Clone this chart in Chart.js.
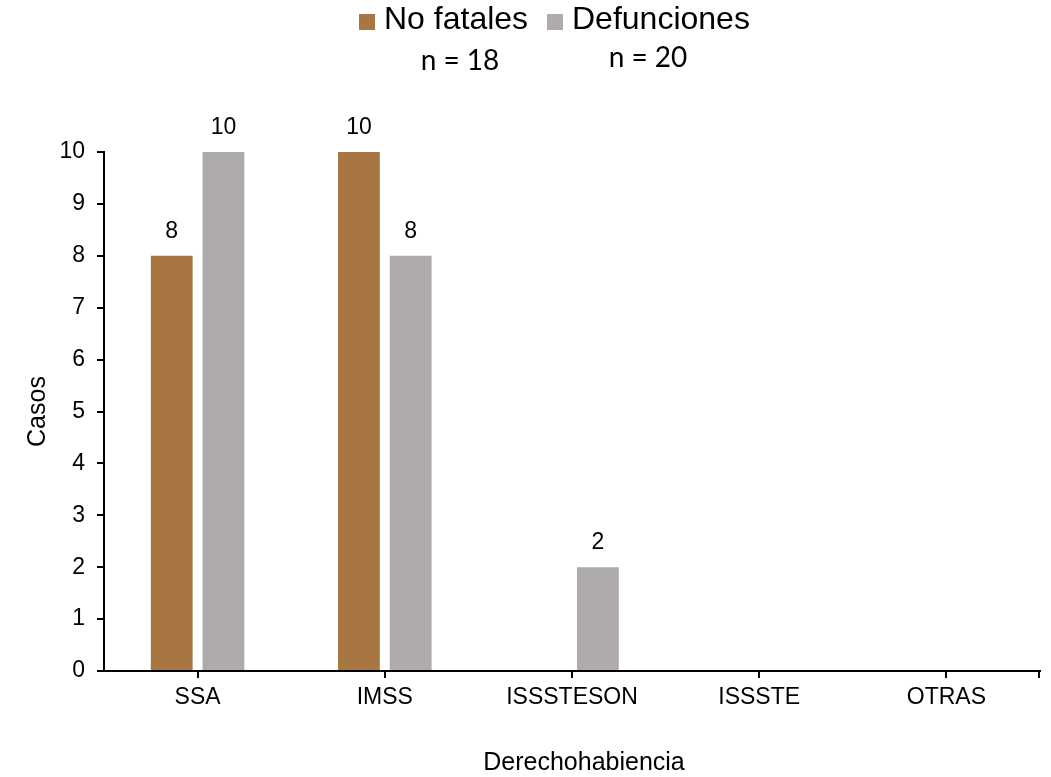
<!DOCTYPE html>
<html>
<head>
<meta charset="utf-8">
<script src="https://cdn.jsdelivr.net/npm/chart.js@4/dist/chart.umd.min.js"></script>
<style>
  html, body { margin: 0; padding: 0; background: #fff; }
  #wrap { width: 1051px; height: 777px; position: relative; }
</style>
</head>
<body>
<div id="wrap"><canvas id="c" width="1051" height="777"></canvas></div>
<script>
const categories = ['SSA', 'IMSS', 'ISSSTESON', 'ISSSTE', 'OTRAS'];
const noFatales = [8, 10, 0, 0, 0];
const defunciones = [10, 8, 2, 0, 0];
const seriesNames = ['No fatales', 'Defunciones'];
const seriesN = ['n = 18', 'n = 20'];
const yTicks = [0, 1, 2, 3, 4, 5, 6, 7, 8, 9, 10];
const xTitle = 'Derechohabiencia';
const yTitle = 'Casos';
const colors = ['#A87741', '#AEABAA'];

const AX = '"Liberation Sans", Arial, sans-serif';

const legendPlugin = {
  id: 'customLegend',
  afterDraw(chart) {
    const ctx = chart.ctx;
    ctx.save();
    const items = [
      { box: 359, text: 384, nx: 460, ny: 61 },
      { box: 547, text: 572, nx: 648, ny: 58 }
    ];
    items.forEach((it, i) => {
      ctx.fillStyle = colors[i];
      ctx.fillRect(it.box, 14, 16, 16);
      ctx.fillStyle = '#000';
      ctx.font = '32px ' + AX;
      ctx.textAlign = 'left';
      ctx.textBaseline = 'middle';
      ctx.fillText(seriesNames[i], it.text, 20);
      ctx.font = '28px Lato, "Open Sans", sans-serif';
      ctx.textAlign = 'center';
      ctx.fillText(seriesN[i], it.nx, it.ny);
    });
    // x axis title
    ctx.font = '25px ' + AX;
    ctx.textAlign = 'center';
    ctx.textBaseline = 'middle';
    ctx.fillText(xTitle, 584, 763);
    ctx.restore();
  }
};

const labelPlugin = {
  id: 'dataLabels',
  afterDatasetsDraw(chart) {
    const ctx = chart.ctx;
    ctx.save();
    ctx.font = '23px ' + AX;
    ctx.fillStyle = '#000';
    ctx.textAlign = 'center';
    ctx.textBaseline = 'bottom';
    chart.data.datasets.forEach((ds, di) => {
      const meta = chart.getDatasetMeta(di);
      meta.data.forEach((bar, i) => {
        const v = ds.data[i];
        if (v > 0) ctx.fillText(String(v), bar.x, bar.y - 13);
      });
    });
    // end tick of x axis
    const a = chart.chartArea;
    ctx.strokeStyle = '#000';
    ctx.lineWidth = 2;
    ctx.beginPath();
    ctx.moveTo(a.right - 1, a.bottom);
    ctx.lineTo(a.right - 1, a.bottom + 7);
    ctx.stroke();
    ctx.restore();
  }
};

new Chart(document.getElementById('c'), {
  type: 'bar',
  data: {
    labels: categories,
    datasets: [
      { label: seriesNames[0], data: noFatales, backgroundColor: colors[0], categoryPercentage: 0.553, barPercentage: 0.808 },
      { label: seriesNames[1], data: defunciones, backgroundColor: colors[1], categoryPercentage: 0.553, barPercentage: 0.808 }
    ]
  },
  options: {
    responsive: false,
    animation: false,
    events: [],
    layout: { padding: { top: 152, right: 11, bottom: 0, left: 0 } },
    plugins: {
      legend: { display: false },
      tooltip: { enabled: false },
      title: { display: false }
    },
    scales: {
      x: {
        offset: true,
        grid: { display: true, drawOnChartArea: false, offset: false, color: '#000', lineWidth: 2, tickLength: 7 },
        border: { display: true, color: '#000', width: 2 },
        ticks: { color: '#000', font: { family: AX, size: 23 }, padding: 6, maxRotation: 0 },
        title: { display: false },
        afterFit(scale) { scale.height = 106; }
      },
      y: {
        min: 0, max: 10,
        afterBuildTicks(scale) { scale.ticks = yTicks.map(v => ({ value: v })); },
        grid: { display: true, drawOnChartArea: false, color: '#000', lineWidth: 2, tickLength: 7 },
        border: { display: true, color: '#000', width: 2 },
        ticks: { color: '#000', font: { family: AX, size: 23 }, padding: 12 },
        title: { display: true, text: yTitle, color: '#000', font: { family: AX, size: 25 }, padding: { top: 23, bottom: 0 } },
        afterFit(scale) { scale.width = 104; }
      }
    }
  },
  plugins: [legendPlugin, labelPlugin]
});
</script>
</body>
</html>
